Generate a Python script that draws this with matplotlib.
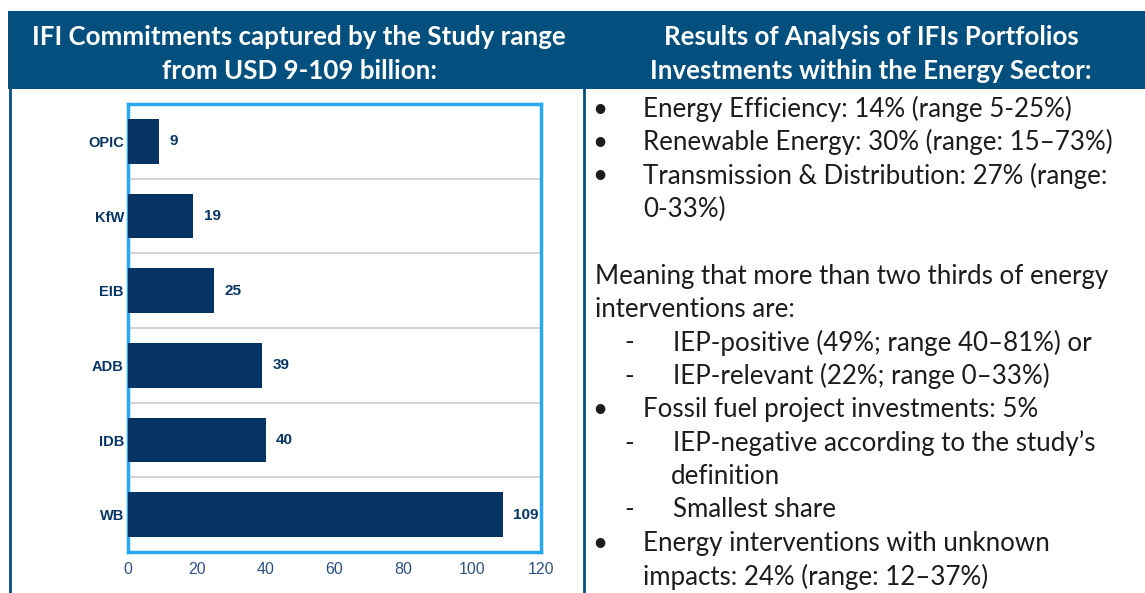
import matplotlib
matplotlib.use("Agg")
import matplotlib.pyplot as plt
from matplotlib.patches import Rectangle
from matplotlib.lines import Line2D

# ---- data ----
categories = ["OPIC", "KfW", "EIB", "ADB", "IDB", "WB"]
values = [9, 19, 25, 39, 40, 109]
xticks = [0, 20, 40, 60, 80, 100, 120]

left_title = ["IFI Commitments captured by the Study range", "from USD 9-109 billion:"]
right_title = ["Results of Analysis of IFIs Portfolios", "Investments within the Energy Sector:"]

# (kind, text) kind: 'b' bullet, 'd' dash, 'p' paragraph, 'c' continuation of bullet, 'cd' continuation of dash, '' blank
right_lines = [
    ("b", "Energy Efficiency: 14% (range 5-25%)"),
    ("b", "Renewable Energy: 30% (range: 15\u201373%)"),
    ("b", "Transmission & Distribution: 27% (range:"),
    ("c", "0-33%)"),
    ("", ""),
    ("p", "Meaning that more than two thirds of energy"),
    ("p", "interventions are:"),
    ("d", "IEP-positive (49%; range 40\u201381%) or"),
    ("d", "IEP-relevant (22%; range 0\u201333%)"),
    ("b", "Fossil fuel project investments: 5%"),
    ("d", "IEP-negative according to the study\u2019s"),
    ("cd", "definition"),
    ("d", "Smallest share"),
    ("b", "Energy interventions with unknown"),
    ("c", "impacts: 24% (range: 12\u201337%)"),
]

W, H = 1145, 593
fig = plt.figure(figsize=(W / 100, H / 100), dpi=100)
fig.patch.set_facecolor("white")

def fx(px):
    return px / W

def fy(py):
    return 1 - py / H

HEADER = "#03507F"
NAVY = "#073563"
TEXT = "#1c1c1c"

# header band
fig.patches.append(Rectangle((fx(8), fy(89)), fx(1145 - 8), 78 / H, transform=fig.transFigure,
                             facecolor=HEADER, edgecolor="none", zorder=0))
# vertical panel lines
fig.lines.append(Line2D([fx(10.5), fx(10.5)], [fy(89), 0], transform=fig.transFigure, color=HEADER, lw=2))
fig.lines.append(Line2D([fx(584), fx(584)], [fy(89), 0], transform=fig.transFigure, color=HEADER, lw=2))

hfont = dict(family=["Lato", "DejaVu Sans"], fontweight="bold", color="white", fontsize=18.6)
fig.text(fx(299), fy(37), left_title[0], ha="center", va="center", **hfont)
fig.text(fx(299), fy(71), left_title[1], ha="center", va="center", **hfont)
fig.text(fx(871), fy(37), right_title[0], ha="center", va="center", **hfont)
fig.text(fx(871), fy(71), right_title[1], ha="center", va="center", **hfont)

# ---- bar chart ----
ax_l, ax_r, ax_t, ax_b = 128, 541, 104, 552
ax = fig.add_axes([fx(ax_l), fy(ax_b), (ax_r - ax_l) / W, (ax_b - ax_t) / H])
ypos = list(range(len(categories)))
ax.barh(ypos, values, height=0.6, color=NAVY, zorder=3)
ax.set_xlim(0, 120)
ax.set_ylim(len(categories) - 0.5, -0.5)
ax.set_yticks(ypos)
ax.set_yticklabels(categories, fontsize=10.5, fontweight="bold", color=NAVY, family="Liberation Sans")
ax.set_xticks(xticks)
ax.set_xticklabels([str(t) for t in xticks], fontsize=11.5, color="#2F5282", family="Liberation Sans")
ax.tick_params(axis="both", length=0)
ax.tick_params(axis="y", pad=3)
ax.tick_params(axis="x", pad=7)
for i in range(1, len(categories)):
    ax.axhline(i - 0.5, color="#CCCCCC", lw=1.2, zorder=1)
for s in ax.spines.values():
    s.set_color("#27A9F3")
    s.set_linewidth(2.5)
for y, v in zip(ypos, values):
    ax.text(v + 3, y, str(v), va="center", ha="left", fontsize=11, fontweight="bold",
            color=NAVY, family="Liberation Sans")

# ---- right text ----
bfont = dict(family=["Lato", "DejaVu Sans"], color=TEXT, fontsize=18.6)
y0 = 109
step = 33.4
for i, (kind, txt) in enumerate(right_lines):
    y = fy(y0 + i * step)
    if kind == "b":
        fig.text(fx(600), y, "\u2022", ha="center", va="center", **bfont)
        fig.text(fx(643), y, txt, ha="left", va="center", **bfont)
    elif kind == "c":
        fig.text(fx(643), y, txt, ha="left", va="center", **bfont)
    elif kind == "d":
        fig.text(fx(629), y, "-", ha="center", va="center", **bfont)
        fig.text(fx(673), y, txt, ha="left", va="center", **bfont)
    elif kind == "cd":
        fig.text(fx(671), y, txt, ha="left", va="center", **bfont)
    elif kind == "p":
        fig.text(fx(595), y, txt, ha="left", va="center", **bfont)

fig.savefig("out.png", dpi=100, facecolor="white")
